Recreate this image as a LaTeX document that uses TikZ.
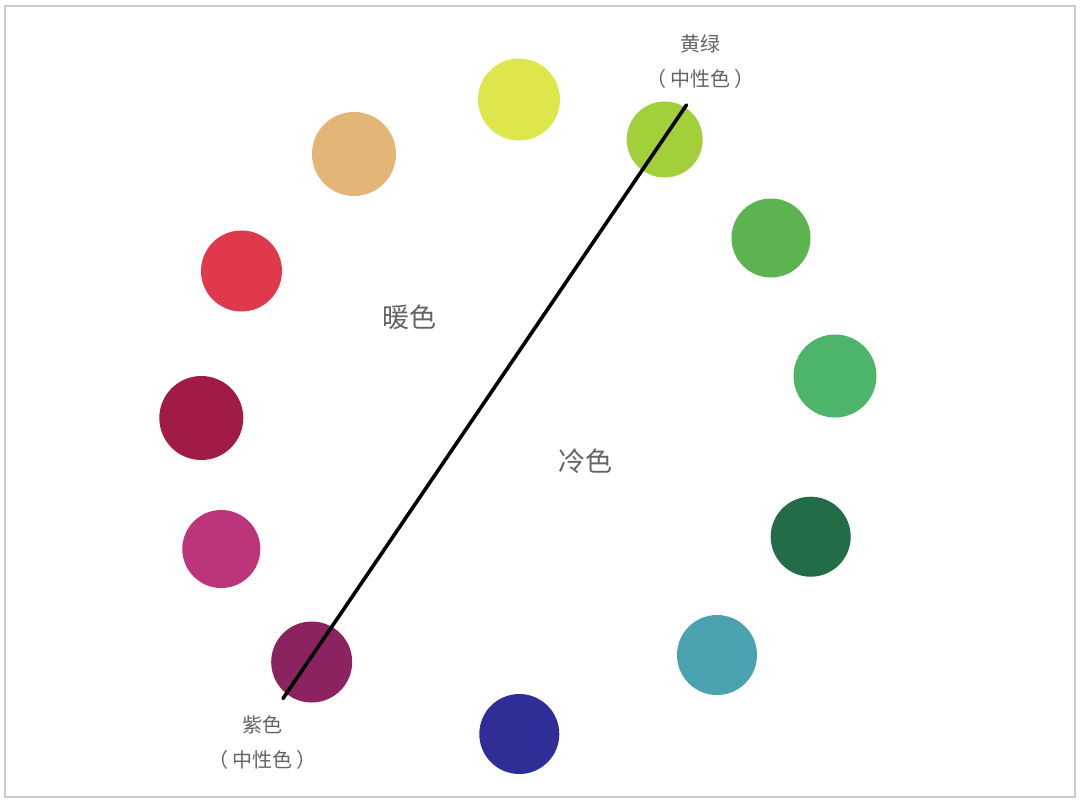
\documentclass[tikz,border=0pt]{standalone}
\usepackage{fontspec}
\newfontfamily\cjk{Noto Sans CJK SC}
\definecolor{cYellow}{HTML}{DDE64A}
\definecolor{cYGreen}{HTML}{A3CF3A}
\definecolor{cGreenA}{HTML}{5DB350}
\definecolor{cGreenB}{HTML}{4DB56A}
\definecolor{cDGreen}{HTML}{236C48}
\definecolor{cTeal}{HTML}{4AA2B0}
\definecolor{cBlue}{HTML}{2E2E96}
\definecolor{cPurple}{HTML}{8A2360}
\definecolor{cMagenta}{HTML}{BC3479}
\definecolor{cCrimson}{HTML}{A11C45}
\definecolor{cRed}{HTML}{E0394B}
\definecolor{cTan}{HTML}{E3B577}
\definecolor{txtgray}{HTML}{646464}
\definecolor{framegray}{HTML}{CCCCCC}
\tikzset{
  dot/.style={circle, inner sep=0pt, minimum size=#1},
  dot/.default=80pt,
  bigtxt/.style={font=\cjk\fontsize{27pt}{30pt}\selectfont, text=txtgray, inner sep=0pt},
  smalltxt/.style={font=\cjk\fontsize{20pt}{24pt}\selectfont, text=txtgray, inner sep=0pt},
  divider/.style={line width=3.6pt, black, line cap=round}
}
\newcommand{\neutralsub}{（\hspace{4pt}中性色\hspace{4pt}）}
\begin{document}
\begin{tikzpicture}[x=1pt,y=-1pt]
\useasboundingbox (0,0) rectangle (1080,803);
\fill[white] (0,0) rectangle (1080,803);
\draw[framegray, line width=2pt] (5,6) rectangle (1075,797);
% colour dots
\node[dot=82pt, fill=cYellow]  (yellow)  at (519,99.5) {};
\node[dot=76pt, fill=cYGreen]  (ygreen)  at (664.7,139.5) {};
\node[dot=79pt, fill=cGreenA]  (greena)  at (771,238) {};
\node[dot=83pt, fill=cGreenB]  (greenb)  at (835,376) {};
\node[dot=80pt, fill=cDGreen]  (dgreen)  at (810.7,536.7) {};
\node[dot=80pt, fill=cTeal]    (teal)    at (717,655) {};
\node[dot=80pt, fill=cBlue]    (blue)    at (519.3,734) {};
\node[dot=81pt, fill=cPurple]  (purple)  at (311.7,662) {};
\node[dot=78pt, fill=cMagenta] (magenta) at (221.3,549) {};
\node[dot=84pt, fill=cCrimson] (crimson) at (201.3,418) {};
\node[dot=81pt, fill=cRed]     (red)     at (241.5,271) {};
\node[dot=84pt, fill=cTan]     (tan)     at (354,154) {};
% divider
\coordinate (top) at (686.5,105);
\coordinate (bot) at (283,698.5);
\draw[divider] (top) -- (bot);
% labels
\node[bigtxt] (warm) at (409,317) {暖色};
\node[bigtxt] (cool) at (585,461) {冷色};
\node[smalltxt] (yglabel) at (700.5,43.5) {黄绿};
\node[smalltxt] (ygsub) at (700,79) {\neutralsub};
\node[smalltxt] (plabel) at (262.5,724.5) {紫色};
\node[smalltxt] (psub) at (262,759.5) {\neutralsub};
\end{tikzpicture}
\end{document}
